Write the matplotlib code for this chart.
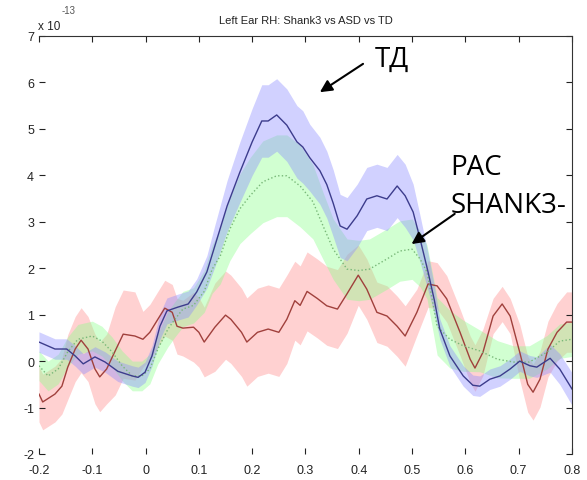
import matplotlib
matplotlib.use("Agg")
import matplotlib.pyplot as plt
import numpy as np

# ---- data (units of 1e-13) ----
t_td = [-0.2, -0.17, -0.148, -0.132, -0.117, -0.095, -0.076, -0.052, -0.025, -0.014,
        -0.001, 0.012, 0.027, 0.04, 0.06, 0.08, 0.096, 0.115, 0.13, 0.153,
        0.177, 0.2, 0.218, 0.23, 0.246, 0.265, 0.284, 0.295, 0.308, 0.327,
        0.34, 0.352, 0.365, 0.378, 0.397, 0.415, 0.434, 0.453, 0.472, 0.487,
        0.502, 0.515, 0.53, 0.542, 0.552, 0.571, 0.596, 0.614, 0.627, 0.646,
        0.665, 0.684, 0.702, 0.721, 0.734, 0.759, 0.777, 0.8]
y_td = [0.41, 0.26, 0.26, 0.11, -0.06, 0.09, -0.02, -0.22, -0.32, -0.35,
        -0.24, 0.11, 0.75, 1.08, 1.16, 1.23, 1.49, 1.92, 2.48, 3.34,
        4.07, 4.72, 5.17, 5.17, 5.3, 5.08, 4.72, 4.61, 4.38, 4.1,
        3.8, 3.4, 2.91, 2.84, 3.13, 3.49, 3.56, 3.49, 3.77, 3.56,
        3.21, 2.63, 1.92, 1.3, 0.69, 0.11, -0.32, -0.52, -0.54, -0.39,
        -0.32, -0.17, 0.0, -0.1, -0.13, 0.06, -0.17, -0.6]
err_td = [0.22, 0.22, 0.22, 0.22, 0.22, 0.22, 0.22, 0.22, 0.22, 0.22,
          0.22, 0.22, 0.28, 0.28, 0.28, 0.28, 0.28, 0.35, 0.45, 0.55,
          0.65, 0.72, 0.78, 0.78, 0.78, 0.78, 0.78, 0.78, 0.72, 0.72,
          0.72, 0.72, 0.68, 0.68, 0.68, 0.68, 0.68, 0.68, 0.68, 0.68,
          0.6, 0.5, 0.4, 0.3, 0.22, 0.22, 0.22, 0.22, 0.22, 0.22,
          0.22, 0.22, 0.22, 0.22, 0.22, 0.3, 0.33, 0.35]

t_asd = [-0.2, -0.183, -0.164, -0.146, -0.127, -0.1, -0.082, -0.063, -0.044, -0.025,
         -0.007, 0.008, 0.023, 0.042, 0.055, 0.07, 0.09, 0.11, 0.125, 0.14,
         0.158, 0.177, 0.196, 0.22, 0.246, 0.265, 0.29, 0.314, 0.333, 0.352,
         0.378, 0.4, 0.42, 0.453, 0.477, 0.5, 0.515, 0.528, 0.54, 0.547,
         0.571, 0.596, 0.627, 0.66, 0.69, 0.72, 0.753, 0.777, 0.8]
y_asd = [-0.1, -0.32, -0.17, 0.2, 0.47, 0.54, 0.43, 0.2, -0.1, -0.32,
         -0.32, -0.17, 0.26, 0.69, 0.9, 1.12, 1.2, 1.5, 1.98, 2.26,
         2.84, 3.28, 3.56, 3.86, 3.99, 3.99, 3.77, 3.43, 2.91, 2.41,
         1.98, 1.95, 1.98, 2.2, 2.37, 2.41, 2.2, 1.92, 1.19, 0.75,
         0.47, 0.33, 0.22, 0.04, -0.02, -0.02, 0.19, 0.43, 0.47]
err_asd = [0.32, 0.32, 0.32, 0.32, 0.32, 0.32, 0.32, 0.32, 0.32, 0.32,
           0.32, 0.32, 0.32, 0.38, 0.38, 0.38, 0.38, 0.45, 0.52, 0.6,
           0.68, 0.75, 0.82, 0.88, 0.88, 0.88, 0.88, 0.8, 0.72, 0.65,
           0.65, 0.65, 0.65, 0.65, 0.65, 0.65, 0.6, 0.58, 0.6, 0.62,
           0.62, 0.55, 0.45, 0.4, 0.35, 0.35, 0.36, 0.37, 0.37]

t_sh = [-0.2, -0.193, -0.17, -0.157, -0.146, -0.132, -0.121, -0.108, -0.095, -0.086,
        -0.073, -0.057, -0.042, -0.02, -0.005, 0.008, 0.023, 0.036, 0.05, 0.059,
        0.07, 0.09, 0.1, 0.11, 0.13, 0.15, 0.16, 0.18, 0.19, 0.21,
        0.23, 0.25, 0.265, 0.28, 0.29, 0.303, 0.322, 0.34, 0.36, 0.378,
        0.399, 0.415, 0.434, 0.453, 0.472, 0.487, 0.509, 0.53, 0.547, 0.565,
        0.59, 0.609, 0.618, 0.633, 0.652, 0.669, 0.684, 0.702, 0.717, 0.727,
        0.74, 0.755, 0.772, 0.79, 0.8]
y_sh = [-0.71, -0.88, -0.71, -0.54, -0.13, 0.26, 0.45, 0.26, -0.17, -0.34,
        -0.17, 0.22, 0.58, 0.54, 0.47, 0.62, 0.9, 1.14, 1.05, 0.75,
        0.71, 0.73, 0.62, 0.41, 0.73, 0.99, 0.9, 0.62, 0.41, 0.62,
        0.69, 0.62, 0.9, 1.3, 1.2, 1.5, 1.35, 1.19, 1.12, 1.45,
        1.85, 1.55, 1.05, 0.97, 0.75, 0.54, 1.05, 1.66, 1.62, 1.34,
        0.62, 0.04, -0.15, 0.19, 0.97, 1.23, 0.97, 0.19, -0.5, -0.67,
        -0.39, 0.26, 0.62, 0.84, 0.84]
err_sh = [0.6, 0.6, 0.6, 0.6, 0.7, 0.7, 0.7, 0.7, 0.75, 0.75,
          0.75, 0.95, 0.95, 0.95, 0.6, 0.6, 0.6, 0.6, 0.6, 0.6,
          0.6, 0.75, 0.75, 0.75, 0.95, 0.95, 0.95, 0.95, 0.95, 0.95,
          0.95, 0.95, 0.95, 0.85, 0.85, 0.85, 0.85, 0.85, 0.85, 0.85,
          0.65, 0.65, 0.65, 0.65, 0.65, 0.65, 0.5, 0.5, 0.5, 0.5,
          0.5, 0.5, 0.5, 0.5, 0.38, 0.38, 0.38, 0.6, 0.6, 0.6,
          0.6, 0.6, 0.62, 0.65, 0.65]

x_ticks = [-0.2, -0.1, 0, 0.1, 0.2, 0.3, 0.4, 0.5, 0.6, 0.7, 0.8]
x_labels = ["-0.2", "-0.1", "0", "0.1", "0.2", "0.3", "0.4", "0.5", "0.6", "0.7", "0.8"]
y_ticks = [-2, -1, 0, 1, 2, 3, 4, 5, 6, 7]

plt.rcParams["font.family"] = ["Liberation Sans", "DejaVu Sans"]
plt.rcParams["axes.unicode_minus"] = False

fig = plt.figure(figsize=(5.87, 4.81), dpi=100)
ax = fig.add_axes([0.0664, 0.0541, 0.908, 0.869])


def band(t, y, e, fill, line, ls):
    t = np.array(t)
    y = np.array(y)
    e = np.array(e)
    ax.fill_between(t, y - e, y + e, color=fill, alpha=0.4, lw=0)
    ax.plot(t, y, color=line, lw=1.0, ls=ls)


# bands + mean lines
band(t_sh, y_sh, err_sh, "#ff8c8c", "#a0403c", "-")
band(t_asd, y_asd, err_asd, "#8cff8c", "#78b878", ":")
band(t_td, y_td, err_td, "#8c8cff", "#3c3c8c", "-")

ax.set_xlim(-0.2, 0.8)
ax.set_ylim(-2, 7)
ax.set_xticks(x_ticks)
ax.set_xticklabels(x_labels)
ax.set_yticks(y_ticks)
ax.tick_params(direction="in", length=4, width=0.8, top=True, right=True,
               labelsize=9, colors="#222222")
ax.tick_params(axis="x", pad=7)
ax.spines["left"].set_visible(False)
ax.spines["bottom"].set_visible(False)
for s in ["top", "right"]:
    ax.spines[s].set_color("#333333")
    ax.spines[s].set_linewidth(0.8)

ax.set_title("Left Ear RH: Shank3 vs ASD vs TD", fontsize=8, pad=9, color="#222222")

# MATLAB style exponent label
fig.text(0.065, 0.944, "x 10", fontsize=8.5, color="#222222", va="center")
fig.text(0.105, 0.977, "-13", fontsize=7, color="#555555", va="center")

# annotations
ann_font = ["Open Sans", "DejaVu Sans"]
ax.text(0.43, 6.36, "ТД", fontsize=20, family=ann_font, va="baseline")
ax.text(0.571, 4.03, "РАС", fontsize=20, family=ann_font, va="baseline")
ax.text(0.573, 3.21, "SHANK3-", fontsize=20, family=ann_font, va="baseline")

arrow = dict(arrowstyle="-|>", color="black", lw=1.5, mutation_scale=18,
             shrinkA=0, shrinkB=0)
ax.annotate("", xy=(0.327, 5.79), xytext=(0.408, 6.4), arrowprops=arrow)
ax.annotate("", xy=(0.499, 2.52), xytext=(0.58, 3.17), arrowprops=arrow)

fig.savefig("out.png", dpi=100)
